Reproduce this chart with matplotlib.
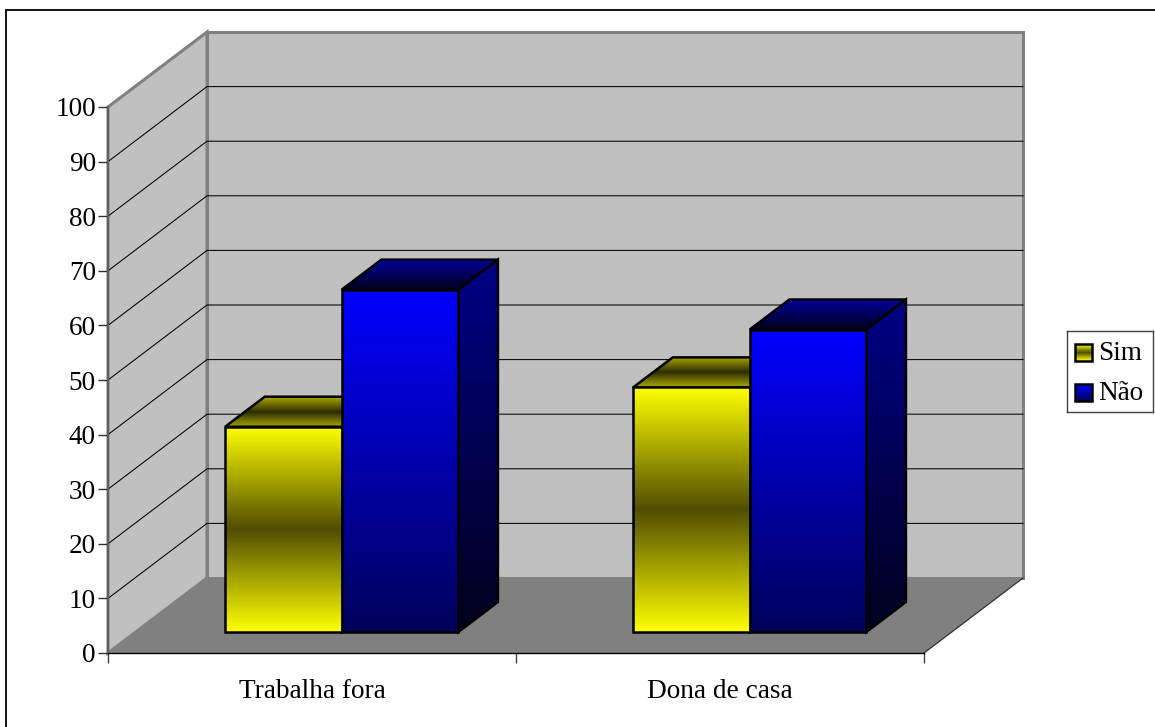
import numpy as np
import matplotlib
matplotlib.use("Agg")
import matplotlib.pyplot as plt
from matplotlib.colors import LinearSegmentedColormap
from matplotlib.patches import Polygon, Rectangle

plt.rcParams['font.family'] = ['Liberation Serif', 'DejaVu Serif']

categories = ['Trabalha fora', 'Dona de casa']
series_names = ['Sim', 'Não']
sim_values = [37.6, 44.8]
nao_values = [62.7, 55.4]
y_ticks = list(range(0, 101, 10))

W, H = 1155, 727
DPI = 100
FONT = 19.6

# axes box is the front plane of the 3d box, in pixels
AX_L, AX_R, AX_T, AX_B = 108, 924, 107, 653
# shift of the back wall relative to the front plane
DEPTH_X = 99 / (AX_R - AX_L) * 2
DEPTH_Y = 75 / (AX_B - AX_T) * 100

BAR_W = 1 / 3.5
BAR_D0, BAR_D1 = 0.28, 0.68
BAR_SHIFT = 0.005

yellow_front = LinearSegmentedColormap.from_list('yf', ['#ffff00', '#504e00', '#ffff00'])
yellow_top = LinearSegmentedColormap.from_list('yt', ['#a8a800', '#2c2c00', '#a8a800'])
blue_front = LinearSegmentedColormap.from_list('bf', ['#0000ff', '#00005a'])
blue_side = LinearSegmentedColormap.from_list('bs', ['#000088', '#00001c'])
blue_top = LinearSegmentedColormap.from_list('bt', ['#00009a', '#000018'])
yellow_side = LinearSegmentedColormap.from_list('ys', ['#808000', '#202000'])


def proj(x, v, d):
    return x + d * DEPTH_X, v + d * DEPTH_Y


def grad_poly(ax, pts, cmap, zorder):
    # vertical gradient clipped to a polygon, with a black outline on top
    pts = np.array(pts)
    grad = np.linspace(0, 1, 256).reshape(-1, 1)
    im = ax.imshow(grad, cmap=cmap, aspect='auto', origin='upper', zorder=zorder,
                   extent=[pts[:, 0].min(), pts[:, 0].max(), pts[:, 1].min(), pts[:, 1].max()])
    outline = Polygon(pts, closed=True, fill=False, edgecolor='black', linewidth=1.8,
                      joinstyle='miter', zorder=zorder + 0.1, clip_on=False)
    ax.add_patch(outline)
    clip = Polygon(pts, closed=True, transform=ax.transData)
    im.set_clip_box(None)
    im.set_clip_path(clip)


def draw_bar(ax, x0, value, front, side, top, zorder):
    x1 = x0 + BAR_W
    grad_poly(ax, [proj(x0, value, BAR_D0), proj(x1, value, BAR_D0),
                   proj(x1, value, BAR_D1), proj(x0, value, BAR_D1)], top, zorder)
    grad_poly(ax, [proj(x1, 0, BAR_D0), proj(x1, 0, BAR_D1),
                   proj(x1, value, BAR_D1), proj(x1, value, BAR_D0)], side, zorder)
    grad_poly(ax, [proj(x0, 0, BAR_D0), proj(x1, 0, BAR_D0),
                   proj(x1, value, BAR_D0), proj(x0, value, BAR_D0)], front, zorder + 0.2)


fig = plt.figure(figsize=(W / DPI, H / DPI), dpi=DPI)
fig.patch.set_facecolor('white')

# outer frame runs off the right and bottom edges
fig.add_artist(Rectangle((5.8 / W, -10 / H), (W + 10) / W, (H - 9.8 + 10) / H, fill=False,
                         edgecolor='black', linewidth=1.3, transform=fig.transFigure))

ax = fig.add_axes([AX_L / W, 1 - AX_B / H, (AX_R - AX_L) / W, (AX_B - AX_T) / H])
ax.patch.set_visible(False)

n = len(categories)
ymax = y_ticks[-1]

# walls and floor
ax.add_patch(Polygon([proj(0, 0, 1), proj(n, 0, 1), proj(n, ymax, 1), proj(0, ymax, 1)],
                     facecolor='#c0c0c0', edgecolor='#808080', linewidth=2.2, zorder=1, clip_on=False))
ax.add_patch(Polygon([proj(0, 0, 0), proj(0, 0, 1), proj(0, ymax, 1), proj(0, ymax, 0)],
                     facecolor='#c0c0c0', edgecolor='#808080', linewidth=2.2, zorder=1, clip_on=False))
ax.add_patch(Polygon([proj(0, 0, 0), proj(n, 0, 0), proj(n, 0, 1), proj(0, 0, 1)],
                     facecolor='#808080', edgecolor='none', zorder=1.2, clip_on=False))

# gridlines along both walls
for t in y_ticks[1:-1]:
    xs, ys = zip(proj(0, t, 0), proj(0, t, 1), proj(n, t, 1))
    ax.plot(xs, ys, color='black', linewidth=0.75, zorder=1.5, clip_on=False)
xs, ys = zip(proj(n, 0, 0), proj(n, 0, 1))
ax.plot(xs, ys, color='#303030', linewidth=0.9, zorder=1.6, clip_on=False)

for i in range(n):
    x_sim = i + (1 - 2 * BAR_W) / 2 + BAR_SHIFT
    draw_bar(ax, x_sim, sim_values[i], yellow_front, yellow_side, yellow_top, 2)
    draw_bar(ax, x_sim + BAR_W, nao_values[i], blue_front, blue_side, blue_top, 3)

ax.set_xlim(0, n)
ax.set_ylim(0, ymax)

ax.set_yticks(y_ticks)
ax.set_xticks(range(n + 1))
ax.set_xticklabels([])
ax.set_xticks([i + 0.5 for i in range(n)], minor=True)
ax.set_xticklabels(categories, minor=True)
ax.tick_params(axis='x', which='major', length=7.2, width=1, color='#404040', direction='out')
ax.tick_params(axis='x', which='minor', length=0, labelsize=FONT, pad=19)
ax.tick_params(axis='y', length=7.2, width=1, color='#303030', labelsize=FONT, pad=1.5)

ax.spines['top'].set_visible(False)
ax.spines['right'].set_visible(False)
ax.spines['left'].set_color('#606060')
ax.spines['left'].set_linewidth(1.4)
ax.spines['left'].set_bounds(0, ymax)
ax.spines['bottom'].set_color('black')
ax.spines['bottom'].set_linewidth(1)

# legend box, laid out in pixels
leg = fig.add_axes([1067 / W, 1 - 412 / H, 86 / W, 81 / H])
leg.set_xticks([])
leg.set_yticks([])
for s in leg.spines.values():
    s.set_color('#404040')
    s.set_linewidth(1)

swatches = [yellow_front, blue_front]
for name, cmap, yc in zip(series_names, swatches, [352.5, 392.5]):
    grad = np.linspace(0, 1, 32).reshape(-1, 1)
    leg.imshow(grad, cmap=cmap, aspect='auto', extent=[1075, 1092, yc + 8.5, yc - 8.5], origin='upper', zorder=2)
    leg.add_patch(Rectangle((1075, yc - 8.5), 17, 17, fill=False, edgecolor='black', linewidth=1.8, zorder=3))
    leg.text(1098, yc + 0.5, name, fontsize=FONT, va='center', ha='left')
leg.set_xlim(1067, 1153)
leg.set_ylim(412, 331)

fig.savefig('out.png', dpi=DPI)
